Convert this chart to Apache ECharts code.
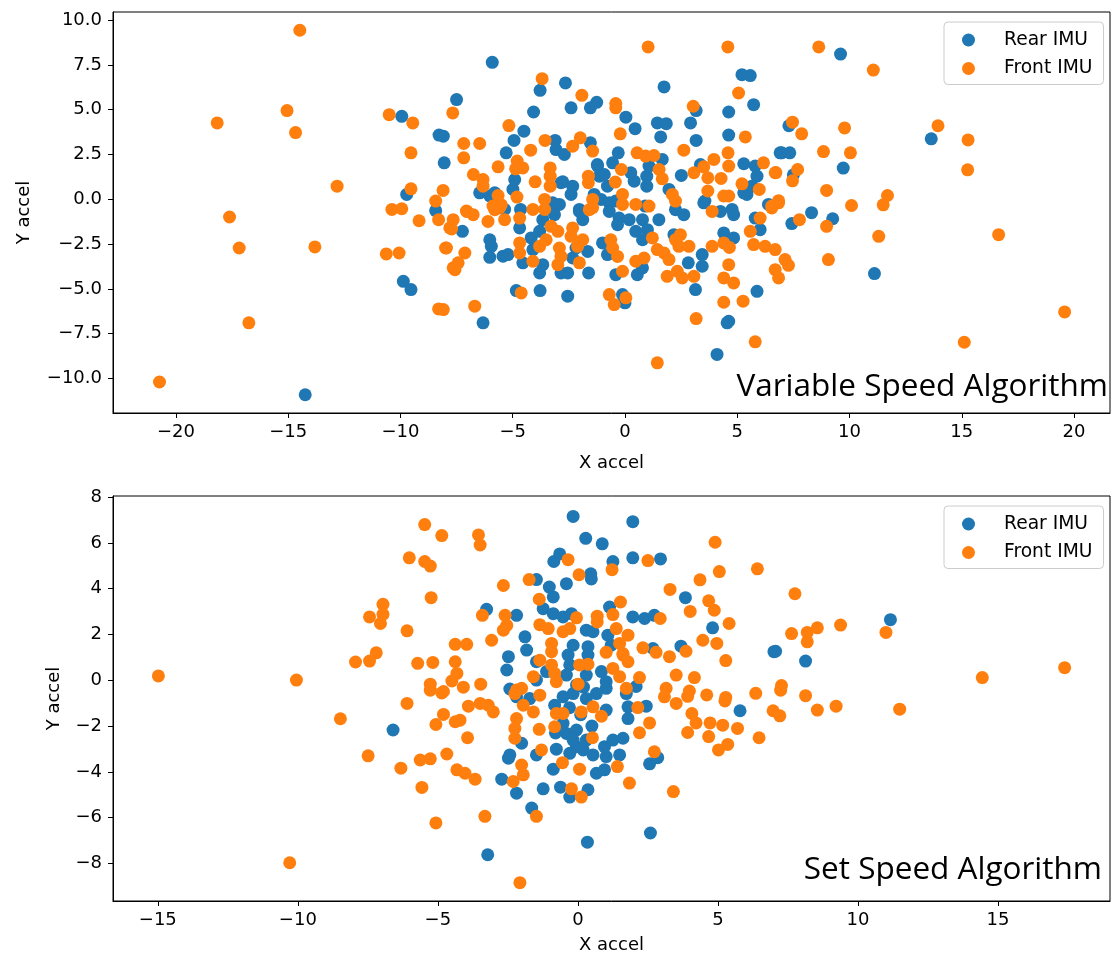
<!DOCTYPE html>
<html>
<head>
<meta charset="utf-8">
<script src="https://cdn.jsdelivr.net/npm/echarts@6.0.0/dist/echarts.min.js"></script>
<style>
  html, body { margin: 0; padding: 0; background: #fff; }
  #chart { width: 1115px; height: 958px; }
</style>
</head>
<body>
<div id="chart"></div>
<script>
// Variable speed algorithm: [x accel, y accel]
const variableRear = [
  [-14.24,-10.91],[-9.94,4.63],[-8.28,3.58],[-8.05,2.03],[-9.72,0.27],[-8.43,-0.64],[-7.5,5.56],[-9.87,-4.58],[-9.53,-5.04],
  [-5.91,7.64],[-3.78,6.08],[-2.65,6.49],[-2.4,5.1],[-1.54,5.1],[-1.26,5.41],[-4.07,4.87],[0.04,4.58],[0.45,3.94],[1.74,6.27],
  [5.21,6.95],[5.58,6.9],[5.73,5.28],[1.44,4.26],[1.84,4.22],[2.92,4.26],[3.17,4.95],[4.62,4.87],[1.59,3.48],[3.17,3.28],
  [4.62,3.58],[-4.5,3.8],[-4.94,3.28],[-5.29,2.59],[-3.11,3.28],[-3.07,2.77],[-2.7,2.5],[-1.54,3.15],[-1.23,1.94],[-0.3,2.59],
  [1.66,2.22],[3.36,1.94],[6.91,2.59],[5.29,1.98],[5.8,1.85],[-6.47,0.36],[-4.99,0.55],[-2.77,0.97],[-2.33,0.73],[-1.22,1.85],
  [-1.14,1.29],[-0.55,2.03],[-0.78,0.73],[0.41,1.01],[0.97,1.29],[0.97,0.73],[2.51,1.33],[3.56,-0.1],[5.43,0.27],[5.88,1.29],
  [6.39,-0.29],[1.96,0.55],[0.9,-0.38],[-0.41,-0.1],[-1.37,0.27],[-2.03,-0.57],[-2.92,-0.29],[-4.65,-0.57],[-6.02,0.18],
  [-8.09,3.52],[-2.85,0.92],[-2.4,0.27],[-3.22,-0.2],[-0.92,1.38],[-1.07,-0.01],[-0.7,-0.2],[0.26,1.48],[1.07,1.85],
  [-4.91,1.1],[-5.8,0.36],[-5.36,-0.57],[3.51,-0.2],[4.77,-0.57],[5.29,0.36],[5.65,0.73],
  [9.6,8.1],[13.64,3.37],[11.11,-4.15],[8.31,-0.75],[9.72,1.74],[9.25,-1.09],[7.3,4.1],[6.98,2.59],[7.34,2.59],[7.5,1.36],[7.43,-1.36],
  [-7.24,-1.79],[-6.32,-6.9],[-6.02,-2.26],[-5.95,-2.63],[-6.02,-3.24],[-5.43,-3.18],[-5.21,-3.09],[-4.69,-1.6],[-4.55,-3.55],
  [-4.84,-5.1],[-3.78,-5.1],[-2.55,-5.41],[-4.18,-2.16],[-3.8,-1.79],[-4.1,-2.81],[-3.66,-1.14],[-3.14,-0.86],[-3.8,-4.11],
  [-3.66,-3.65],[-2.85,-4.11],[-2.55,-4.11],[-2.33,-3.28],[-2.18,-2.72],[-1.66,-2.91],[-1.62,-4.11],[-1.88,-1.14],[-2.03,-0.68],
  [-1.0,-2.44],[-0.78,-3.09],[-0.41,-4.21],[-0.11,-5.32],[0.0,-5.78],[-0.7,-0.68],[-0.26,-1.05],[0.19,-1.14],[0.78,-1.14],
  [1.0,-1.7],[-0.33,-1.42],[0.48,-1.79],[0.78,-2.26],[0.55,-4.21],[0.78,-3.83],[1.51,-1.14],[2.18,-1.98],[2.25,-0.58],
  [2.62,-0.86],[4.25,-0.68],[4.84,-0.86],[3.44,-3.09],[3.44,-3.74],[2.82,-3.55],[4.4,-1.88],[4.84,-2.16],[3.14,-5.04],
  [4.55,-6.9],[4.62,-6.81],[4.1,-8.66],[5.88,-5.14],[5.8,-1.05],[6.02,-1.7]
];
const variableFront = [
  [-20.73,-10.2],[-14.48,9.43],[-18.16,4.26],[-15.05,4.95],[-14.67,3.72],[-12.82,0.73],[-17.61,-0.99],[-17.18,-2.72],
  [-13.81,-2.66],[-16.75,-6.9],[-10.5,4.72],[-9.45,4.26],[-9.53,2.59],[-9.53,0.58],[-8.1,0.49],[-8.43,-0.1],[-10.38,-0.57],
  [-9.94,-0.53],[-7.67,4.82],[-10.63,-3.05],[-10.06,-3.0],[-8.3,-6.12],[-9.17,-1.2],[-8.3,-1.14],[-7.99,-2.72],[-7.72,-1.66],
  [-7.65,-3.83],[-3.69,6.73],[-1.92,5.8],[-0.41,5.34],[-0.41,5.1],[-0.21,3.65],[1.03,8.5],[4.58,8.5],[5.06,5.93],[3.04,5.19],
  [5.36,3.48],[-5.17,4.11],[-7.18,3.11],[-6.47,3.11],[-7.18,2.31],[-4.2,2.74],[-3.56,3.28],[-2.33,2.96],[-1.99,3.43],
  [-1.44,2.69],[0.54,2.59],[0.92,2.41],[1.29,2.44],[2.62,2.74],[3.96,2.22],[4.59,2.59],[6.17,2.03],[6.69,1.48],[4.62,1.85],
  [-0.16,1.66],[-4.8,2.13],[-4.55,1.75],[-4.87,1.7],[-5.65,1.81],[-6.75,1.38],[-6.32,1.1],[-6.32,0.73],[-5.65,0.21],
  [-4.81,0.12],[-4.0,0.97],[-3.33,1.75],[-3.33,1.29],[-3.33,0.73],[-1.63,1.29],[-1.63,0.92],[-0.43,0.96],[1.52,1.66],
  [1.66,1.14],[3.07,1.48],[3.51,1.81],[3.69,1.2],[3.69,0.46],[4.28,1.16],[4.4,0.18],[4.62,0.18],[5.21,0.86],[5.98,0.55],
  [6.54,-0.38],[6.84,-0.2],[2.11,0.27],[2.25,-0.1],[0.48,-0.29],[1.07,-0.38],[-0.11,0.27],[-0.11,-0.29],[-1.44,-0.01],
  [-1.44,-0.47],[-3.58,-0.01],[-3.58,-0.57],[-4.1,-0.57],[-5.88,-0.38],[-5.58,-0.47],[-7.06,-0.66],
  [8.63,8.5],[11.06,7.21],[7.46,4.3],[7.87,3.65],[9.78,3.98],[13.94,4.1],[15.28,3.31],[8.84,2.66],[10.04,2.59],[6.72,1.49],
  [7.69,1.66],[7.46,1.03],[15.26,1.64],[8.98,0.49],[11.69,0.21],[11.5,-0.31],[10.09,-0.35],[6.84,-0.08],[7.77,-1.14],
  [8.98,-1.51],[11.3,-2.07],[16.64,-1.98],[7.13,-3.37],[7.28,-3.69],[9.06,-3.37],[19.58,-6.29],[15.11,-7.98],
  [-7.04,-0.68],[-6.76,-0.86],[-7.65,-1.14],[-7.8,-1.6],[-7.95,-2.72],[-7.13,-3.0],[-7.43,-3.55],[-7.57,-3.93],[-8.09,-6.16],
  [-6.69,-5.97],[-6.1,-1.24],[-5.8,-0.58],[-5.51,-0.31],[-5.36,-1.14],[-4.69,-1.05],[-4.69,-2.44],[-4.69,-3.0],[-4.62,-5.23],
  [-3.8,-2.63],[-3.51,-2.26],[-3.29,-1.51],[-2.99,-1.79],[-4.1,-3.46],[-2.92,-2.72],[-2.85,-3.19],[-2.99,-3.65],[-2.33,-1.6],
  [-2.4,-2.07],[-2.11,-2.63],[-1.88,-2.26],[-2.03,-3.55],[-1.59,-0.58],[-0.63,-2.26],[-0.55,-2.72],[-0.33,-3.19],[-0.11,-4.02],
  [-0.7,-5.32],[-0.48,-5.88],[0.04,-5.5],[1.22,-2.16],[1.44,-2.81],[1.74,-3.0],[1.96,-3.37],[0.48,-3.46],[0.85,-3.28],
  [1.88,-4.3],[2.33,-4.02],[2.55,-4.39],[3.07,-4.3],[2.25,-2.26],[2.47,-1.98],[2.4,-2.63],[2.85,-2.63],[3.88,-0.68],
  [3.88,-2.63],[4.4,-2.44],[4.65,-2.69],[4.62,-3.65],[4.4,-4.39],[4.84,-4.67],[4.4,-5.75],[5.26,-5.69],[3.17,-6.66],
  [5.8,-7.96],[1.44,-9.13],[5.73,-2.53],[5.58,-1.79],[6.24,-2.63],[6.69,-2.81],[6.69,-3.93],[6.84,-4.39],[6.02,-1.05],[6.54,-0.49]
];
// Set speed algorithm: [x accel, y accel]
const setRear = [
  [-6.6,-2.17],[-0.17,7.16],[1.96,6.93],[0.28,6.2],[0.87,5.96],[-0.65,5.52],[-0.86,5.19],[1.25,5.19],[1.96,5.35],[2.95,5.3],
  [0.46,4.65],[0.48,4.43],[-1.48,4.4],[-0.41,4.22],[-1.02,4.07],[-0.88,3.64],[3.84,3.61],[4.81,2.29],[-3.26,3.1],[-2.19,2.84],
  [-1.24,3.13],[-0.88,2.91],[-0.53,2.77],[-0.23,2.91],[1.13,3.2],[1.96,2.77],[2.38,2.7],[2.73,2.84],[0.3,2.19],[0.54,2.12],
  [-1.89,1.9],[-1.83,1.32],[-2.48,1.03],[-2.54,0.45],[-0.17,1.53],[0.36,1.47],[1.07,1.97],[1.19,1.53],[2.68,1.39],[3.68,1.49],
  [7.0,1.25],[-2.43,-0.38],[-1.48,0.81],[-1.12,0.38],[-1.48,0.01],[-0.35,1.1],[-0.29,0.67],[-0.41,0.23],[-0.05,-0.2],
  [0.36,1.1],[0.3,0.23],[0.84,0.38],[1.01,-0.06],[1.01,-0.35],[2.08,-0.27],[11.16,2.65],[7.06,1.27],[8.13,0.84],
  [-3.22,-7.62],[0.34,-7.07],[2.59,-6.67],[-2.72,-4.32],[-2.19,-4.93],[-1.65,-5.58],[-1.24,-4.74],[-0.62,-4.67],[-0.29,-5.1],
  [0.36,-4.78],[-0.88,-3.88],[0.66,-4.06],[0.95,-3.91],[2.56,-3.65],[2.85,-3.38],[-2.48,-3.4],[-2.43,-3.26],[-1.48,-3.26],
  [-2.01,-2.75],[-0.77,-3.01],[-0.41,-2.32],[-0.05,-2.9],[-0.29,-3.19],[0.19,-3.04],[-0.53,-1.88],[-0.05,-2.17],[-0.17,-2.61],
  [0.3,-2.61],[0.54,-3.26],[1.01,-3.33],[1.49,-3.26],[0.95,-2.9],[1.25,-2.61],[1.61,-2.53],[-0.83,-1.09],[1.01,-1.3],
  [1.79,-1.16],[1.79,-1.67],[2.44,-1.13],[5.79,-1.33],[-0.53,-0.72],[-0.17,-0.58],[0.3,-0.8],[0.66,-0.58],[-2.19,-0.72],
  [-1.72,-0.8],[1.73,-0.58],[0.1,-1.5],[-0.3,-1.2],[0.5,-2.0],[0.2,-0.3],[-0.8,-2.3]
];
const setFront = [
  [-5.47,6.8],[-4.86,6.32],[-6.02,5.35],[-5.47,5.19],[-5.27,4.99],[-5.24,3.61],[-6.96,3.32],[-6.96,2.88],[-7.44,2.77],
  [-7.05,2.48],[-6.1,2.16],[-7.2,1.2],[-7.44,0.84],[-7.94,0.8],[-5.72,0.74],[-5.18,0.78],[-14.98,0.19],[-10.05,0.01],
  [-5.27,-0.17],[-4.8,-0.49],[-8.48,-1.68],[-6.1,-1.01],[-5.07,-1.93],[-4.8,-1.49],[-5.27,-0.43],[-4.86,-0.55],[-7.49,-3.3],
  [-6.32,-3.84],[-5.63,-3.48],[-5.27,-3.43],[-4.68,-3.22],[-5.57,-4.68],[-5.07,-6.23],[-10.29,-7.97],
  [-3.55,6.35],[-3.49,5.91],[-0.35,5.27],[2.5,5.23],[4.9,6.03],[1.22,4.83],[0.04,4.61],[5.05,4.75],[6.41,4.87],[-1.74,4.4],
  [-2.66,4.14],[4.36,4.39],[3.29,3.97],[-1.38,3.54],[1.52,3.42],[4.67,3.47],[4.87,3.06],[4.01,3.01],[5.4,2.48],[-3.41,2.84],
  [-2.6,2.84],[-2.54,2.4],[-2.66,2.19],[0.69,2.8],[0.69,2.55],[-0.05,2.73],[1.25,2.87],[2.94,2.7],[-1.36,2.43],[-1.06,2.26],
  [-0.53,2.12],[-0.29,2.26],[1.37,2.26],[1.79,1.97],[-3.08,1.75],[-4.38,1.57],[-3.97,1.57],[-0.94,1.61],[-0.94,1.25],
  [1.01,1.22],[1.49,1.61],[1.61,1.17],[1.79,0.81],[2.32,1.42],[2.79,1.22],[3.27,1.03],[3.86,1.27],[4.46,1.75],[4.96,1.61],
  [5.28,0.86],[-4.38,0.81],[-4.32,0.3],[-4.5,-0.03],[-4.09,-0.3],[-3.47,-0.17],[-2.19,-0.42],[-2.01,-0.35],[-1.36,0.88],
  [-0.94,0.67],[-0.83,0.3],[-0.77,-0.06],[-1.59,0.16],[0.06,0.67],[0.36,0.7],[0.01,-0.17],[1.25,0.52],[1.49,0.16],
  [1.73,-0.35],[1.61,1.1],[2.2,0.12],[3.15,-0.35],[3.51,0.23],[3.98,-0.47],[4.16,0.12],[4.6,-0.64],[5.28,-0.75],[6.35,-0.57],
  [7.75,3.78],[11.0,2.09],[7.63,2.04],[8.19,2.09],[8.55,2.29],[8.19,1.68],[9.38,2.41],[7.27,-0.23],[8.13,-0.67],[14.44,0.12],
  [17.38,0.55],[7.24,-0.43],[6.97,-1.33],[7.21,-1.55],[8.55,-1.3],[9.22,-1.13],[11.49,-1.26],
  [-4.38,-1.81],[-4.21,-1.74],[-3.91,-1.13],[-3.49,-1.01],[-3.2,-1.09],[-3.02,-1.38],[-3.94,-2.51],[-4.32,-3.91],[-4.03,-4.06],
  [-3.67,-4.32],[-3.32,-5.94],[-2.07,-8.84],[-1.48,-5.94],[0.12,-5.1],[-0.23,-4.74],[1.84,-4.49],[3.41,-4.86],[0.06,-3.88],
  [-0.55,-3.6],[1.41,-3.77],[2.73,-3.12],[-2.01,-3.7],[-1.95,-4.13],[-2.31,-4.42],[-1.3,-3.04],[-2.25,-2.53],[-2.25,-2.1],
  [-2.19,-1.67],[-1.95,-1.09],[-1.59,-1.38],[-2.25,-0.58],[-1.36,-0.65],[-1.38,-2.14],[0.52,-2.51],[-0.77,-1.45],[-0.53,-1.45],
  [-0.83,-2.03],[0.12,-1.38],[0.54,-1.16],[0.84,-1.57],[2.14,-1.19],[2.56,-1.86],[2.2,-2.29],[3.09,-0.72],[3.51,-1.01],
  [3.92,-0.7],[5.25,-0.9],[4.07,-1.45],[4.22,-1.86],[4.72,-1.86],[5.17,-1.96],[5.7,-2.1],[3.92,-2.28],[4.67,-2.46],[5.02,-3.04],
  [5.35,-2.8],[6.47,-2.51]
];

const topXTicks = [-20, -15, -10, -5, 0, 5, 10, 15, 20];
const topYTicks = [-10, -7.5, -5, -2.5, 0, 2.5, 5, 7.5, 10];
const botXTicks = [-15, -10, -5, 0, 5, 10, 15];
const botYTicks = [-8, -6, -4, -2, 0, 2, 4, 6, 8];
const seriesNames = ['Rear IMU', 'Front IMU'];

const BLUE = '#1f77b4', ORANGE = '#ff7f0e';
const FONT = 'DejaVu Sans';

function minus(s) { return String(s).replace('-', '\u2212'); }

function makeAxis(gridIndex, min, max, ticks, name, nameGap, isY, decimals) {
  return {
    type: 'value', gridIndex, min, max,
    name, nameLocation: 'middle', nameGap,
    nameTextStyle: { fontFamily: FONT, fontSize: 18, color: '#000' },
    axisLine: { show: true, onZero: false, lineStyle: { color: '#000', width: 1 } },
    axisTick: { show: true, length: 5, inside: false, customValues: ticks, lineStyle: { color: '#000', width: 1 } },
    axisLabel: {
      customValues: ticks, margin: isY ? 11 : 10,
      fontFamily: FONT, fontSize: 18, color: '#000',
      formatter: v => minus(decimals ? v.toFixed(decimals) : String(v))
    },
    splitLine: { show: false }
  };
}

function legendAt(top) {
  return {
    data: seriesNames, orient: 'vertical', left: 944, top,
    padding: [8, 11, 6, 18], itemGap: 8.5, itemWidth: 13, itemHeight: 13,
    icon: 'circle',
    backgroundColor: 'rgba(255,255,255,0.8)', borderColor: '#cccccc', borderWidth: 1, borderRadius: 4,
    textStyle: { fontFamily: FONT, fontSize: 18.7, color: '#000', padding: [0, 0, 0, 24], lineHeight: 20 },
    selectedMode: false
  };
}

function scatter(name, data, idx, color) {
  return {
    name, type: 'scatter', data, xAxisIndex: idx, yAxisIndex: idx,
    symbolSize: 13, itemStyle: { color, opacity: 1 }, emphasis: { disabled: true }
  };
}

const chart = echarts.init(document.getElementById('chart'), null, { renderer: 'canvas' });
chart.setOption({
  animation: false,
  backgroundColor: '#fff',
  grid: [
    { left: 113, top: 12, width: 997, height: 401, show: true, borderColor: '#000', borderWidth: 1 },
    { left: 113, top: 496, width: 997, height: 405, show: true, borderColor: '#000', borderWidth: 1 }
  ],
  xAxis: [
    makeAxis(0, -22.8, 21.6, topXTicks, 'X accel', 41, false, 0),
    makeAxis(1, -16.6, 19.0, botXTicks, 'X accel', 35, false, 0)
  ],
  yAxis: [
    makeAxis(0, -11.93, 10.45, topYTicks, 'Y accel', 80, true, 1),
    makeAxis(1, -9.64, 8.05, botYTicks, 'Y accel', 50, true, 0)
  ],
  legend: [legendAt(22), legendAt(506)],
  series: [
    scatter('Rear IMU', variableRear, 0, BLUE),
    scatter('Front IMU', variableFront, 0, ORANGE),
    scatter('Rear IMU', setRear, 1, BLUE),
    scatter('Front IMU', setFront, 1, ORANGE)
  ],
  graphic: [
    { type: 'text', right: 7, top: 371, z: 100,
      style: { text: 'Variable Speed Algorithm', fontFamily: 'Open Sans', fontSize: 31.5, fill: '#000' } },
    { type: 'text', right: 13, top: 854, z: 100,
      style: { text: 'Set Speed Algorithm', fontFamily: 'Open Sans', fontSize: 31.5, fill: '#000' } }
  ]
});
</script>
</body>
</html>
